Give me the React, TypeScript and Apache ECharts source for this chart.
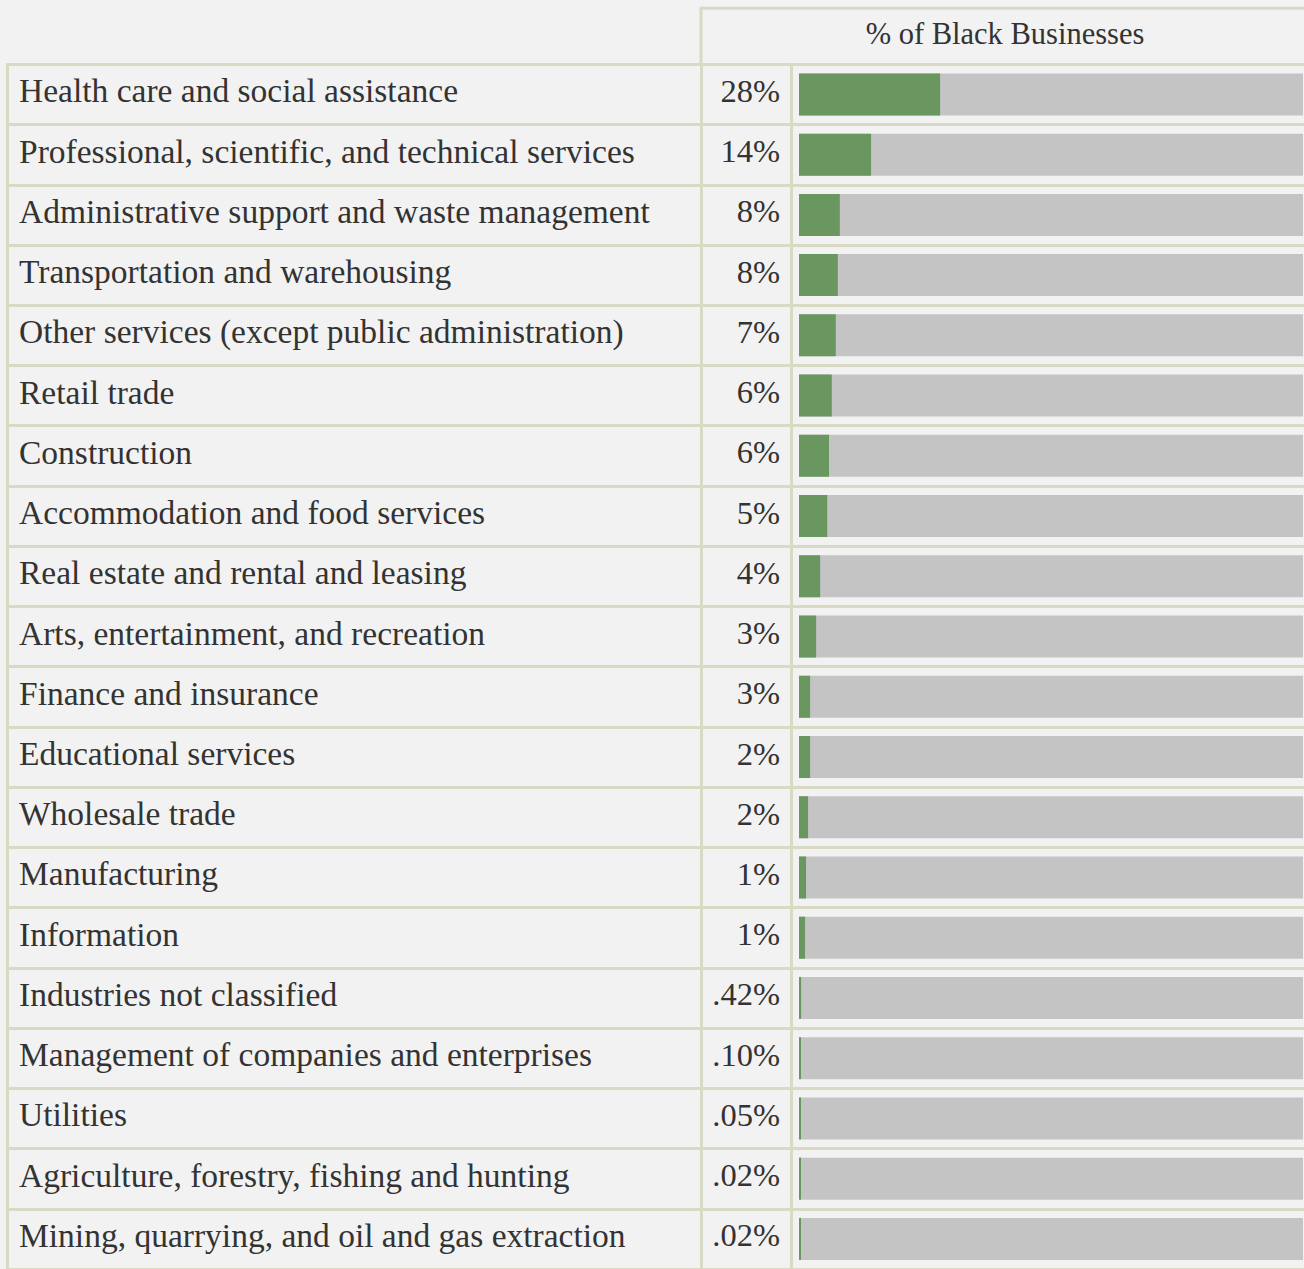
import React, { useEffect, useRef } from "react";
import * as echarts from "echarts";

const categories = [
  "Health care and social assistance",
  "Professional, scientific, and technical services",
  "Administrative support and waste management",
  "Transportation and warehousing",
  "Other services (except public administration)",
  "Retail trade",
  "Construction",
  "Accommodation and food services",
  "Real estate and rental and leasing",
  "Arts, entertainment, and recreation",
  "Finance and insurance",
  "Educational services",
  "Wholesale trade",
  "Manufacturing",
  "Information",
  "Industries not classified",
  "Management of companies and enterprises",
  "Utilities",
  "Agriculture, forestry, fishing and hunting",
  "Mining, quarrying, and oil and gas extraction",
];

const values = [
  28, 14.3, 8.1, 7.7, 7.3, 6.5, 5.95, 5.6, 4.2, 3.4, 2.2, 2.2, 1.8, 1.4, 1.2,
  0.42, 0.1, 0.05, 0.02, 0.02,
];

const pctLabels = [
  "28%", "14%", "8%", "8%", "7%", "6%", "6%", "5%", "4%", "3%", "3%", "2%",
  "2%", "1%", "1%", ".42%", ".10%", ".05%", ".02%", ".02%",
];

const track = categories.map(() => 100);

const headerText = "% of Black Businesses";

const LINE = "#d9dac4";
const TEXT = "#333333";
const FONT = "Liberation Serif";

export default function App() {
  const ref = useRef<HTMLDivElement>(null);

  useEffect(() => {
    document.body.style.margin = "0";
    document.body.style.background = "#f2f2f2";
    const chart = echarts.init(ref.current!, undefined, { renderer: "svg" });
    const top = 64.3;
    const height = 60.35 * categories.length;
    const lineStyle = { color: LINE, width: 3 };
    const richLabel = (size: number) => ({
      t: {
        fontSize: size,
        fontFamily: FONT,
        color: TEXT,
        padding: [0, 0, 7, 0],
      },
    });
    chart.setOption({
      animation: false,
      backgroundColor: "#f2f2f2",
      textStyle: { fontFamily: FONT },
      grid: [
        { left: 7, top, width: 694, height },
        { left: 701, top, width: 90, height },
        { left: 791, top, width: 513, height },
      ],
      xAxis: [
        { type: "value", gridIndex: 0, show: false },
        { type: "value", gridIndex: 1, show: false },
        { type: "value", gridIndex: 2, show: false, min: -1.587, max: 100.2 },
      ],
      yAxis: [
        {
          type: "category",
          gridIndex: 0,
          inverse: true,
          position: "left",
          data: categories,
          axisLine: { show: true, lineStyle },
          axisTick: { show: false },
          axisLabel: {
            inside: true,
            margin: 12,
            color: TEXT,
            fontSize: 33.5,
            fontFamily: FONT,
            formatter: (v: string) => `{t|${v}}`,
            rich: richLabel(33.5),
          },
          splitLine: { show: true, lineStyle },
        },
        {
          type: "category",
          gridIndex: 1,
          inverse: true,
          position: "left",
          data: categories,
          axisLine: { show: true, lineStyle },
          axisTick: { show: false },
          axisLabel: { show: false },
          splitLine: { show: true, lineStyle },
        },
        {
          type: "category",
          gridIndex: 1,
          inverse: true,
          position: "right",
          data: pctLabels,
          axisLine: { show: true, lineStyle },
          axisTick: { show: false },
          axisLabel: {
            inside: true,
            margin: 11,
            color: TEXT,
            fontSize: 32.5,
            fontFamily: FONT,
            formatter: (v: string) => `{t|${v}}`,
            rich: richLabel(32.5),
          },
          splitLine: { show: false },
        },
        {
          type: "category",
          gridIndex: 2,
          inverse: true,
          position: "left",
          data: categories,
          axisLine: { show: false },
          axisTick: { show: false },
          axisLabel: { show: false },
          splitLine: { show: true, lineStyle },
        },
      ],
      series: [
        {
          type: "bar",
          xAxisIndex: 2,
          yAxisIndex: 3,
          data: track,
          barWidth: 42,
          silent: true,
          itemStyle: { color: "#c4c4c4" },
          z: 1,
        },
        {
          type: "bar",
          xAxisIndex: 2,
          yAxisIndex: 3,
          data: values,
          barWidth: 42,
          barGap: "-100%",
          barMinHeight: 2,
          itemStyle: { color: "#6a9660" },
          z: 2,
        },
      ],
      graphic: [
        {
          type: "line",
          shape: { x1: 701, y1: 8.3, x2: 1310, y2: 8.3 },
          style: { stroke: LINE, lineWidth: 3 },
        },
        {
          type: "line",
          shape: { x1: 701, y1: 6.8, x2: 701, y2: 64.3 },
          style: { stroke: LINE, lineWidth: 3 },
        },
        {
          type: "text",
          x: 1005,
          y: 34,
          style: {
            text: headerText,
            fill: TEXT,
            font: `30.5px "${FONT}"`,
            fontSize: 30.5,
            fontFamily: FONT,
            align: "center",
            verticalAlign: "middle",
            textAlign: "center",
            textVerticalAlign: "middle",
          },
        },
      ],
    });
    return () => chart.dispose();
  }, []);

  return <div ref={ref} style={{ width: 1304, height: 1269 }} />;
}
